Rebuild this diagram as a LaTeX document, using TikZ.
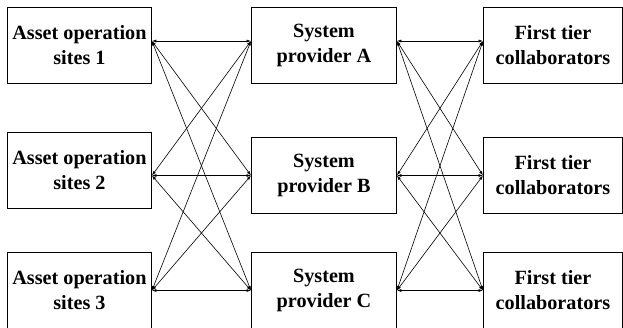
\documentclass[tikz,border=0pt]{standalone}
\usepackage{fontspec}
\setmainfont{Liberation Serif}
\usetikzlibrary{arrows.meta,calc}
\begin{document}
\begin{tikzpicture}[x=1pt,y=-1pt,
  box/.style={draw, line width=0.9pt, anchor=north west, inner sep=0pt,
    minimum height=76pt, align=center,
    font=\fontsize{20.2}{25}\selectfont\bfseries},
  leftbox/.style={box, minimum width=144pt},
  midbox/.style={box, minimum width=145pt},
  rightbox/.style={box, minimum width=139pt},
  link/.style={{Latex[length=4.5pt,width=3pt]}-{Latex[length=4.5pt,width=3pt]}, line width=0.6pt}]
\clip (0,0) rectangle (623,327);

% asset operation sites
\node[leftbox] (a1) at (7,7)   {Asset operation\\sites 1};
\node[leftbox] (a2) at (7,132) {Asset operation\\sites 2};
\node[leftbox] (a3) at (7,252) {Asset operation\\sites 3};

% system providers
\node[midbox] (p1) at (251,7)   {System\\provider A};
\node[midbox] (p2) at (251,137) {System\\provider B};
\node[midbox] (p3) at (251,252) {System\\provider C};

% first tier collaborators
\node[rightbox] (f1) at (483,7)   {First tier\\collaborators};
\node[rightbox] (f2) at (483,137) {First tier\\collaborators};
\node[rightbox] (f3) at (483,252) {First tier\\collaborators};

% attachment points on the box sides
\coordinate (la1) at ($(a1.north east)+(0,34)$);
\coordinate (la2) at ($(a2.north east)+(0,43.5)$);
\coordinate (la3) at ($(a3.north east)+(0,38.5)$);
\coordinate (pl1) at ($(p1.north west)+(0,34)$);
\coordinate (pl2) at ($(p2.north west)+(0,38.5)$);
\coordinate (pl3) at ($(p3.north west)+(0,38.5)$);
\coordinate (pr1) at ($(p1.north east)+(0,34)$);
\coordinate (pr2) at ($(p2.north east)+(0,38.5)$);
\coordinate (pr3) at ($(p3.north east)+(0,38.5)$);
\coordinate (fl1) at ($(f1.north west)+(0,34)$);
\coordinate (fl2) at ($(f2.north west)+(0,38.5)$);
\coordinate (fl3) at ($(f3.north west)+(0,38.5)$);

% every site to every provider, every provider to every collaborator
\foreach \i in {1,2,3}{
  \foreach \j in {1,2,3}{
    \draw[link] (la\i) -- (pl\j);
    \draw[link] (pr\i) -- (fl\j);
  }
}
\end{tikzpicture}
\end{document}
